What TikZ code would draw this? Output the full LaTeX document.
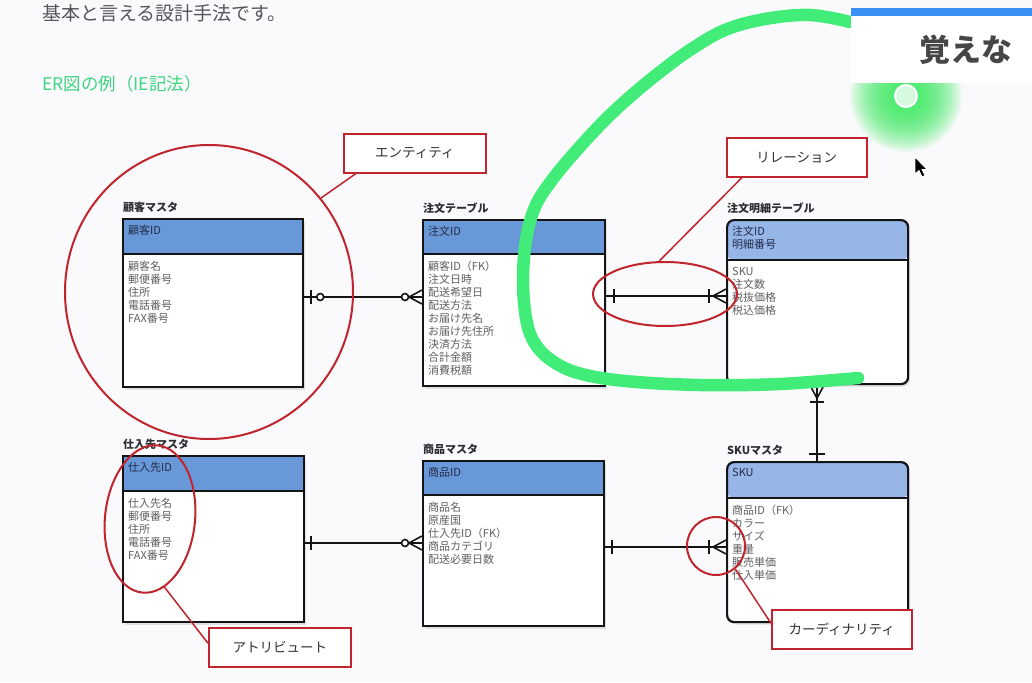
\documentclass[tikz,border=0pt]{standalone}
\usepackage{fontspec}
\setmainfont{Noto Sans CJK JP}
\usetikzlibrary{shapes.geometric,shadows,calc}
\definecolor{bg}{RGB}{250,250,252}
\definecolor{boxc}{RGB}{20,20,22}
\definecolor{hdra}{RGB}{104,152,216}
\definecolor{hdrb}{RGB}{150,182,232}
\definecolor{ttlc}{RGB}{45,45,50}
\definecolor{hdrtc}{RGB}{35,45,75}
\definecolor{attrc}{RGB}{95,95,100}
\definecolor{redc}{RGB}{192,36,44}
\definecolor{calc}{RGB}{50,50,55}
\definecolor{topc}{RGB}{85,85,90}
\definecolor{ergreen}{RGB}{62,214,128}
\definecolor{penc}{RGB}{66,236,120}
\definecolor{glowc}{RGB}{50,236,90}
\definecolor{bluebar}{RGB}{58,143,243}
\definecolor{bigc}{RGB}{70,70,72}
% #1 a/b  #2 name  #3 position  #4 width  #5 height  #6 header height  #7 title  #8 header  #9 attributes
\newcommand{\ertbl}[9]{%
  \node[tbl#1, minimum width=#4, minimum height=#5, anchor=north west,
    path picture={\fill[hdr#1] (path picture bounding box.north west) rectangle ([yshift=-#6]path picture bounding box.north east);
      \draw[boxc, line width=2pt] ([yshift=-#6]path picture bounding box.north west) -- ([yshift=-#6]path picture bounding box.north east);}]
    (#2) at #3 {};
  \node[ttl, anchor=south west] (#2-t) at ([xshift=1pt,yshift=5pt]#2.north west) {#7};
  \node[hdrtxt, anchor=north west] (#2-h) at ([xshift=6pt,yshift=-7pt]#2.north west) {#8};
  \node[attr, anchor=north west] (#2-a) at ([xshift=6pt,yshift=-#6-8pt]#2.north west) {#9};
}
\begin{document}
\begin{tikzpicture}[x=1pt,y=-1pt,
  tbla/.style={rectangle, draw=boxc, line width=2.2pt, fill=white, inner sep=0pt,
    drop shadow={opacity=.22,shadow xshift=2pt,shadow yshift=-2.5pt}},
  tblb/.style={tbla, rounded corners=7pt},
  ttl/.style={font=\bfseries\fontsize{11}{13}\selectfont, text=ttlc, inner sep=0pt},
  hdrtxt/.style={font=\fontsize{11}{13.5}\selectfont, text=hdrtc, inner sep=0pt, align=left},
  attr/.style={font=\fontsize{11}{13}\selectfont, text=attrc, inner sep=0pt, align=left},
  rel/.style={draw=boxc, line width=1.6pt},
  redring/.style={ellipse, draw=redc, line width=2pt, inner sep=0pt},
  callout/.style={rectangle, draw=redc, line width=1.5pt, fill=white, minimum width=142pt,
    minimum height=39pt, inner sep=0pt, font=\fontsize{13.5}{16}\selectfont, text=calc},
  calline/.style={draw=redc, line width=1.5pt},
  pen/.style={draw=penc, line width=12.5pt, line cap=round, line join=round}
]
\useasboundingbox (0,0) rectangle (1032,682);
\fill[bg] (0,0) rectangle (1032,682);

% header texts
\node[anchor=west, inner sep=0pt, text=topc, font=\fontsize{19}{22}\selectfont] (intro) at (42,13) {基本と言える設計手法です。};
\node[anchor=west, inner sep=0pt, text=ergreen, font=\fontsize{17.5}{20}\selectfont] (ertitle) at (42,84) {ER図の例（IE記法）};

% tables
\ertbl{a}{kokyaku}{(122,218)}{180pt}{168pt}{35pt}{顧客マスタ}{顧客ID}{顧客名\\郵便番号\\住所\\電話番号\\FAX番号}
\ertbl{a}{chumon}{(422,219)}{182pt}{166pt}{34pt}{注文テーブル}{注文ID}{顧客ID（FK）\\注文日時\\配送希望日\\配送方法\\お届け先名\\お届け先住所\\決済方法\\合計金額\\消費税額}
\ertbl{b}{meisai}{(726,219)}{181pt}{164pt}{40pt}{注文明細テーブル}{注文ID\\明細番号}{SKU\\注文数\\税抜価格\\税込価格}
\ertbl{a}{shiire}{(122,455)}{181pt}{166pt}{35pt}{仕入先マスタ}{仕入先ID}{仕入先名\\郵便番号\\住所\\電話番号\\FAX番号}
\ertbl{a}{shohin}{(422,460)}{181pt}{165pt}{34pt}{商品マスタ}{商品ID}{商品名\\原産国\\仕入先ID（FK）\\商品カテゴリ\\配送必要日数}
\ertbl{b}{sku}{(726,461)}{181pt}{160pt}{36pt}{SKUマスタ}{SKU}{商品ID（FK）\\カラー\\サイズ\\重量\\販売単価\\仕入単価}

% relation 1: kokyaku - chumon
\coordinate (r1a) at (kokyaku.east |- 0,297);
\coordinate (r1b) at (chumon.west |- 0,297);
\draw[rel] (r1a) -- (r1b);
\draw[rel] ([xshift=7pt,yshift=7pt]r1a) -- ([xshift=7pt,yshift=-7pt]r1a);
\draw[rel, fill=white] ([xshift=16pt]r1a) circle (3.5);
\draw[rel] ([yshift=7pt]r1b) -- ([xshift=-13pt]r1b) -- ([yshift=-7pt]r1b);
\draw[rel, fill=white] ([xshift=-17pt]r1b) circle (3.5);

% relation 2: chumon - meisai
\coordinate (r2a) at (chumon.east |- 0,296);
\coordinate (r2b) at (meisai.west |- 0,296);
\draw[rel] (r2a) -- (r2b);
\draw[rel] ([xshift=8pt,yshift=7pt]r2a) -- ([xshift=8pt,yshift=-7pt]r2a);
\draw[rel] ([yshift=7pt]r2b) -- ([xshift=-13pt]r2b) -- ([yshift=-7pt]r2b);
\draw[rel] ([xshift=-17pt,yshift=7pt]r2b) -- ([xshift=-17pt,yshift=-7pt]r2b);

% relation 3: shiire - shohin
\coordinate (r3a) at (shiire.east |- 0,543);
\coordinate (r3b) at (shohin.west |- 0,543);
\draw[rel] (r3a) -- (r3b);
\draw[rel] ([xshift=6pt,yshift=7pt]r3a) -- ([xshift=6pt,yshift=-7pt]r3a);
\draw[rel] ([yshift=7pt]r3b) -- ([xshift=-13pt]r3b) -- ([yshift=-7pt]r3b);
\draw[rel, fill=white] ([xshift=-17pt]r3b) circle (3.5);

% relation 4: shohin - sku
\coordinate (r4a) at (shohin.east |- 0,547);
\coordinate (r4b) at (sku.west |- 0,547);
\draw[rel] (r4a) -- (r4b);
\draw[rel] ([xshift=7pt,yshift=7pt]r4a) -- ([xshift=7pt,yshift=-7pt]r4a);
\draw[rel] ([yshift=7pt]r4b) -- ([xshift=-13pt]r4b) -- ([yshift=-7pt]r4b);
\draw[rel] ([xshift=-17pt,yshift=7pt]r4b) -- ([xshift=-17pt,yshift=-7pt]r4b);

% relation 5: meisai - sku (vertical)
\coordinate (r5a) at (meisai.south -| 817,0);
\coordinate (r5b) at (sku.north -| 817,0);
\draw[rel] (r5a) -- (r5b);
\draw[rel] ([xshift=-7pt]r5a) -- ([yshift=-13pt]r5a) -- ([xshift=7pt]r5a);
\draw[rel] ([xshift=-7pt,yshift=-17pt]r5a) -- ([xshift=7pt,yshift=-17pt]r5a);
\draw[rel] ([xshift=-8pt,yshift=7pt]r5b) -- ([xshift=8pt,yshift=7pt]r5b);

% red annotation rings
\node[redring, minimum width=288pt, minimum height=294pt] (ent) at (209,292) {};
\node[redring, minimum width=144pt, minimum height=64pt] (relr) at (665,294) {};
\node[redring, minimum width=90pt, minimum height=148pt, rotate=-6] (att) at (150,519) {};
\node[redring, minimum width=58pt, minimum height=58pt] (card) at (716,546) {};

% callouts
\node[callout, anchor=north west] (entbox) at (343,133) {エンティティ};
\node[callout, anchor=north west, minimum width=140pt] (relbox) at (726,137) {リレーション};
\node[callout, anchor=north west] (attbox) at (208,627) {アトリビュート};
\node[callout, anchor=north west, minimum width=140pt] (cardbox) at (771,609) {カーディナリティ};
\draw[calline] ([xshift=13pt]entbox.south west) -- (ent.40);
\draw[calline] ([xshift=16pt]relbox.south west) -- (relr.100);
\draw[calline] (att.-72) -- ([yshift=4pt]attbox.west);
\draw[calline] (card.-50) -- ([yshift=6pt]cardbox.west);

% green freehand pen stroke
\draw[pen] plot[smooth, tension=0.6] coordinates {(850,22) (810,15) (765,19) (725,30) (690,50) (660,72) (632,95) (605,120) (577,150) (552,180) (535,207) (526,240) (523,280) (526,318) (534,342) (551,360) (578,373) (625,381) (700,385) (780,384) (858,378)};

% glow of pointer
\foreach \r in {56,54,...,14} {\fill[glowc, opacity=0.075] (906,96) circle (\r);}
\filldraw[fill={rgb,255:red,214;green,250;blue,224}, draw=white, line width=2pt] (906,96) circle (11);

% overlay banner
\fill[white] (851,10) rectangle (1032,83);
\fill[bluebar] (851,8) rectangle (1032,16);
\node[anchor=west, inner sep=0pt, text=bigc, font=\bfseries\fontsize{31}{34}\selectfont] (banner) at (919,50) {覚えな};

% mouse cursor
\filldraw[fill=black, draw=white, line width=.8pt] (915,157) -- (915,174) -- (919,170.5) -- (922,177) -- (925,175.5) -- (922,169.5) -- (927,169.5) -- cycle;
\end{tikzpicture}
\end{document}
